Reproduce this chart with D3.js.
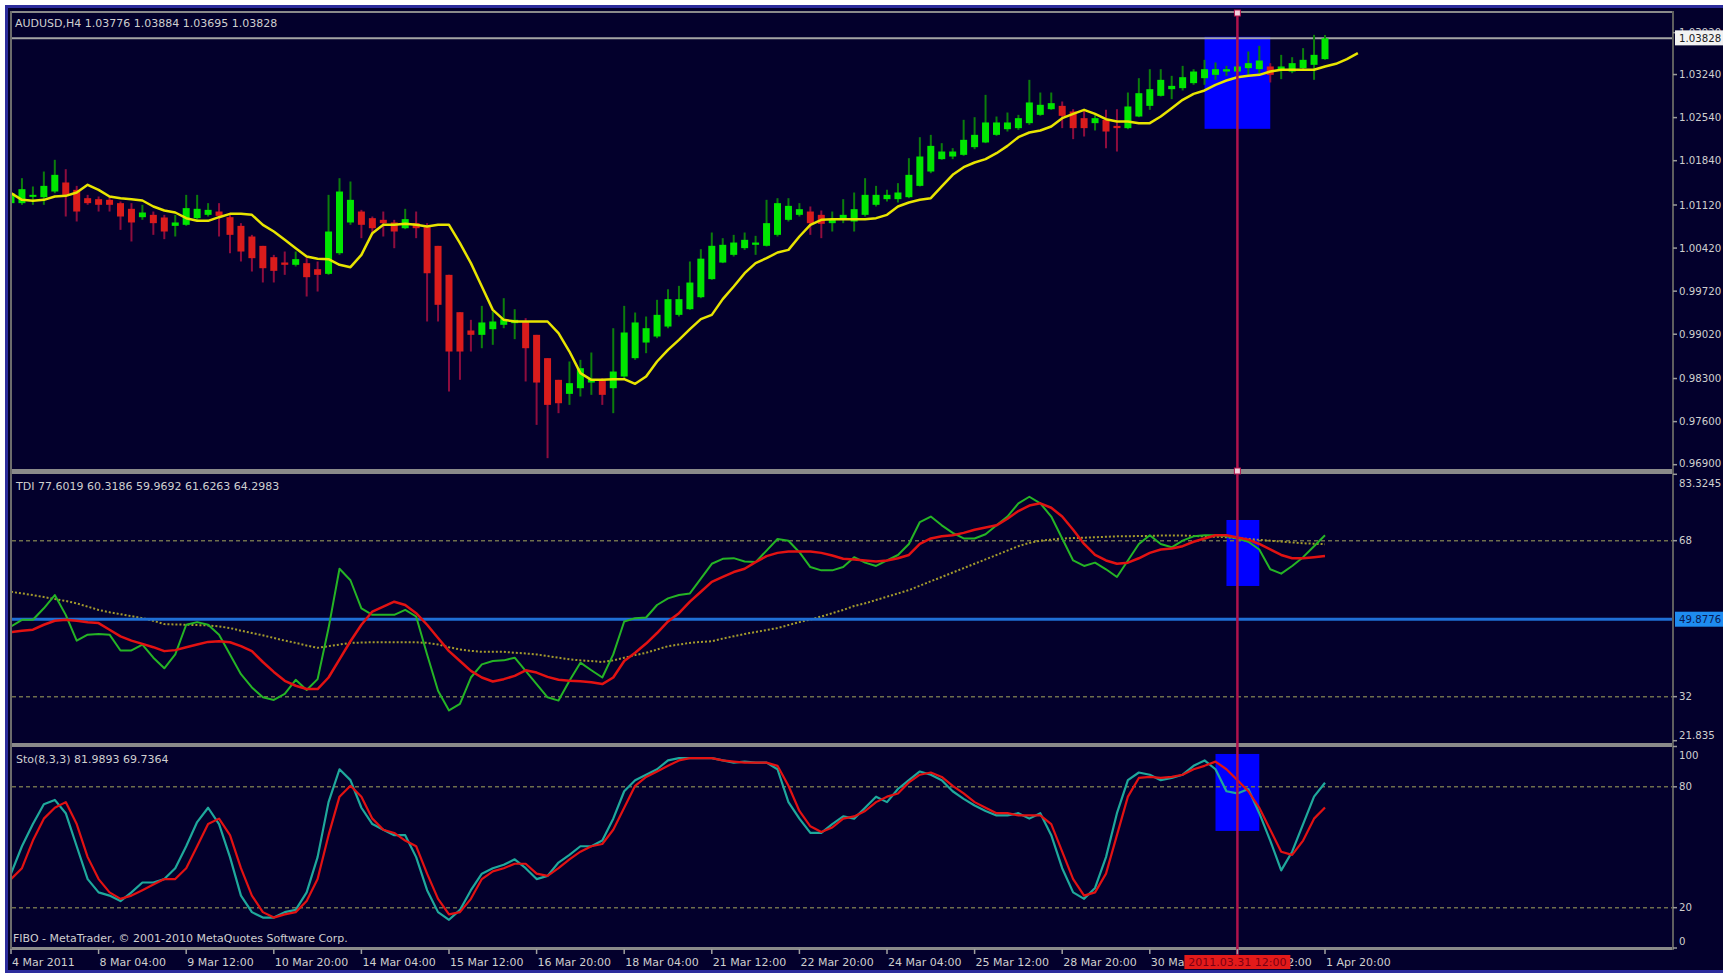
<!DOCTYPE html>
<html><head><meta charset="utf-8"><title>AUDUSD H4</title>
<script src="https://cdn.jsdelivr.net/npm/d3@7/dist/d3.min.js"></script>
<style>
html,body{margin:0;padding:0;background:#fff;overflow:hidden}
svg{display:block}
</style></head><body>
<svg id="chart" width="1723" height="973"></svg>
<script>
// ---------- DATA ----------
const timeLabels=["4 Mar 2011","8 Mar 04:00","9 Mar 12:00","10 Mar 20:00","14 Mar 04:00","15 Mar 12:00","16 Mar 20:00","18 Mar 04:00","21 Mar 12:00","22 Mar 20:00","24 Mar 04:00","25 Mar 12:00","28 Mar 20:00","30 Mar 04:00","31 Mar 12:00","1 Apr 20:00"];
const labelBars=[0,8,16,24,32,40,48,56,64,72,80,88,96,104,112,120];

const open=[1.01150,1.01150,1.01258,1.01247,1.01339,1.01486,1.01366,1.01231,1.01215,1.01204,
1.01150,1.01058,1.00922,1.00960,1.00917,1.00781,1.00798,1.00906,1.00960,1.01014,
1.00922,1.00781,1.00608,1.00456,1.00272,1.00186,1.00148,1.00175,1.00077,1.00001,
1.00337,1.00836,1.01014,1.00906,1.00879,1.00836,1.00743,1.00825,1.00760,1.00456,
0.99985,0.99378,0.99081,0.99010,0.99102,0.99173,0.99200,0.99227,0.99010,0.98631,
0.98279,0.98051,0.98143,0.98235,0.98290,0.98143,0.98333,0.98631,0.98885,0.98983,
0.99145,0.99335,0.99427,0.99622,0.99915,1.00185,1.00310,1.00419,1.00473,1.00457,
1.00635,1.00879,1.00960,1.01014,1.00960,1.00825,1.00890,1.00852,1.00960,1.01123,
1.01215,1.01215,1.01247,1.01431,1.01664,1.01865,1.01908,1.01935,1.02060,1.02136,
1.02260,1.02352,1.02369,1.02450,1.02585,1.02677,1.02731,1.02639,1.02531,1.02450,
1.02504,1.02406,1.02369,1.02558,1.02731,1.02894,1.03002,1.03019,1.03100,1.03181,
1.03235,1.03289,1.03289,1.03344,1.03327,1.03371,1.03317,1.03289,1.03344,1.03398,
1.03490];
const high=[1.01366,1.01556,1.01421,1.01664,1.01854,1.01702,1.01431,1.01285,1.01258,1.01258,
1.01177,1.01150,1.01123,1.01014,1.00960,1.00960,1.01285,1.01285,1.01150,1.01150,
1.00960,1.00825,1.00635,1.00456,1.00310,1.00364,1.00364,1.00256,1.00202,1.01285,
1.01556,1.01502,1.01041,1.00933,1.01014,1.00879,1.01058,1.01014,1.00825,1.00456,
0.99985,0.99378,0.99254,0.99481,0.99389,0.99606,0.99427,0.99281,0.99010,0.98631,
0.98279,0.98577,0.98604,0.98723,0.98306,0.99118,0.99481,0.99373,0.99308,0.99579,
0.99752,0.99806,1.00202,1.00402,1.00673,1.00581,1.00635,1.00673,1.00619,1.01204,
1.01231,1.01231,1.01150,1.01096,1.01031,1.01014,1.01215,1.01323,1.01556,1.01431,
1.01366,1.01475,1.01881,1.02222,1.02260,1.02125,1.02044,1.02504,1.02547,1.02910,
1.02558,1.02623,1.02585,1.03154,1.02948,1.02948,1.02802,1.02677,1.02666,1.02585,
1.02666,1.02677,1.02948,1.03181,1.03327,1.03327,1.03219,1.03381,1.03327,1.03479,
1.03436,1.03381,1.03425,1.03614,1.03706,1.03425,1.03560,1.03522,1.03669,1.03885,
1.03884];
const low=[1.01069,1.01123,1.01123,1.01123,1.01312,1.00933,1.00852,1.01123,1.01014,1.01014,
1.00716,1.00527,1.00879,1.00635,1.00565,1.00608,1.00781,1.00879,1.00933,1.00608,
1.00337,1.00202,1.00039,0.99861,0.99861,0.99985,1.00121,0.99633,0.99714,0.99985,
1.00310,1.00798,1.00581,1.00635,1.00608,1.00418,1.00727,1.00581,0.99227,0.99227,
0.98089,0.98279,0.98739,0.98793,0.98848,0.99118,0.98940,0.98252,0.97547,0.97006,
0.97737,0.97872,0.98008,0.98035,0.97872,0.97737,0.98306,0.98604,0.98712,0.98956,
0.99118,0.99308,0.99416,0.99606,0.99904,1.00175,1.00283,1.00391,1.00310,1.00446,
1.00608,1.00852,1.00933,1.00635,1.00581,1.00689,1.00825,1.00689,1.00933,1.01096,
1.01177,1.01161,1.01231,1.01421,1.01637,1.01854,1.01865,1.01919,1.02027,1.02125,
1.02244,1.02314,1.02341,1.02423,1.02569,1.02666,1.02369,1.02190,1.02233,1.02331,
1.02044,1.01989,1.02352,1.02547,1.02666,1.02883,1.02840,1.02981,1.03073,1.03073,
1.03154,1.03219,1.03235,1.03235,1.03262,1.03111,1.03165,1.03262,1.03327,1.03154,
1.03479];
const close=[1.01312,1.01377,1.01285,1.01431,1.01610,1.01285,1.01014,1.01150,1.01123,1.01123,
1.00933,1.00836,1.00998,1.00825,1.00689,1.00836,1.01069,1.01058,1.01041,1.00944,
1.00635,1.00364,1.00256,1.00093,1.00050,1.00148,1.00240,0.99947,0.99985,1.00689,
1.01339,1.01204,1.00798,1.00743,1.00825,1.00689,1.00890,1.00743,1.00011,0.99498,
0.98739,0.98739,0.99010,0.99211,0.99227,0.99265,0.99254,0.98793,0.98235,0.97872,
0.97899,0.98225,0.98468,0.98290,0.98035,0.98414,0.99048,0.99211,0.99118,0.99335,
0.99590,0.99590,0.99860,1.00248,1.00457,1.00473,1.00510,1.00554,1.00510,1.00825,
1.01150,1.01106,1.01052,1.00825,1.00814,1.00890,1.00960,1.01052,1.01285,1.01285,
1.01285,1.01323,1.01610,1.01908,1.02081,1.01989,1.01989,1.02179,1.02260,1.02461,
1.02461,1.02461,1.02531,1.02786,1.02748,1.02775,1.02569,1.02369,1.02369,1.02531,
1.02314,1.02369,1.02721,1.02937,1.03002,1.03154,1.03056,1.03197,1.03289,1.03327,
1.03327,1.03327,1.03371,1.03425,1.03468,1.03235,1.03371,1.03425,1.03479,1.03560,
1.03828];
// moving average (drawn shifted 3 bars forward, so it has 124 points)
const maValues=[1.01312,1.01204,1.01188,1.01204,1.01258,1.01269,1.01323,1.01448,1.01366,1.01258,
1.01231,1.01215,1.01193,1.01096,1.01031,1.00998,1.00906,1.00863,1.00863,1.00922,
1.00976,1.00976,1.00960,1.00798,1.00689,1.00554,1.00418,1.00283,1.00245,1.00240,
1.00148,1.00110,1.00310,1.00662,1.00798,1.00798,1.00814,1.00798,1.00771,1.00798,
1.00798,1.00500,1.00175,0.99796,0.99416,0.99254,0.99227,0.99227,0.99227,0.99227,
0.99037,0.98739,0.98387,0.98279,0.98279,0.98290,0.98290,0.98214,0.98333,0.98577,
0.98766,0.98929,0.99102,0.99265,0.99335,0.99590,0.99796,1.00012,1.00175,1.00256,
1.00348,1.00391,1.00608,1.00798,1.00879,1.00890,1.00890,1.00890,1.00890,1.00906,
1.00960,1.01096,1.01161,1.01204,1.01231,1.01421,1.01610,1.01735,1.01811,1.01865,
1.01962,1.02081,1.02222,1.02298,1.02331,1.02396,1.02531,1.02601,1.02666,1.02601,
1.02515,1.02477,1.02477,1.02450,1.02450,1.02558,1.02693,1.02829,1.02926,1.02981,
1.03073,1.03143,1.03197,1.03219,1.03235,1.03289,1.03317,1.03317,1.03317,1.03317,
1.03371,1.03414,1.03490,1.03588];
const priceTicks=[0.96900,0.97600,0.98300,0.99020,0.99720,1.00420,1.01120,1.01840,1.02540,1.03240,1.03920];

// TDI
const tdiPrice=[48.21,49.74,49.74,52.40,55.45,50.88,44.94,46.31,46.47,46.31,
42.66,42.66,44.03,40.99,38.55,41.75,48.60,49.20,48.60,46.31,
41.75,37.18,34.14,31.85,31.25,32.62,35.89,33.53,36.04,47.83,
61.53,58.87,52.40,50.88,50.88,50.88,52.02,50.50,41.75,33.38,
28.81,30.33,36.42,39.46,40.23,40.38,40.99,37.94,34.90,31.85,
31.09,35.66,39.84,38.09,36.42,41.75,49.36,50.12,50.27,53.16,
54.68,55.45,55.83,59.25,62.67,63.82,63.97,63.21,63.06,65.72,
68.38,68.00,65.34,61.91,61.15,61.15,61.91,64.20,62.93,62.17,
63.44,64.70,67.24,72.30,73.58,71.55,69.80,68.51,68.51,69.50,
71.55,73.58,76.62,78.14,76.62,73.58,68.51,63.44,62.17,62.93,
61.40,59.63,63.44,67.24,69.27,67.24,66.48,68.00,69.01,69.27,
69.27,69.01,68.51,67.75,65.97,61.40,60.39,62.17,64.20,66.73,
69.27];
const tdiSignal=[46.92,47.23,47.45,48.60,49.51,49.74,49.51,49.20,48.98,47.45,
45.93,44.94,44.18,43.42,42.51,42.74,43.42,44.03,44.64,44.79,
44.56,43.65,42.51,40.00,37.71,35.66,34.52,33.76,33.76,36.42,
40.61,44.79,48.60,51.64,52.78,53.92,53.16,51.26,48.60,45.55,
42.51,40.23,37.94,36.42,35.51,36.04,36.80,38.09,37.56,36.57,
35.89,35.66,35.58,35.35,34.90,36.42,40.23,42.13,44.26,46.69,
49.36,51.26,53.92,56.21,58.49,59.63,60.77,61.53,63.06,64.43,
65.19,65.49,65.49,65.49,65.19,64.58,63.82,63.66,63.44,63.20,
63.44,63.94,64.70,67.24,68.51,69.01,69.27,69.80,70.54,71.04,
71.55,73.07,74.85,76.11,76.62,75.60,73.58,70.54,67.24,64.70,
63.44,62.68,62.93,63.94,65.20,65.97,66.22,66.73,67.75,68.51,
69.27,69.27,68.76,68.25,67.24,65.97,64.70,63.94,63.94,64.20,
64.45];
const tdiBase=[56.21,55.83,55.45,54.99,54.53,54.08,53.54,52.78,52.02,51.49,
51.03,50.58,50.12,49.51,48.75,48.67,48.60,48.52,48.44,48.21,
47.83,47.23,46.69,46.16,45.55,44.94,44.41,43.80,43.27,43.65,
44.03,44.41,44.49,44.56,44.56,44.56,44.56,44.56,44.41,44.03,
43.42,42.89,42.58,42.35,42.35,42.35,42.13,41.97,41.75,41.37,
40.99,40.61,40.38,40.23,40.00,40.38,40.99,41.59,42.13,42.89,
43.65,44.03,44.41,44.64,44.79,45.40,45.93,46.47,46.92,47.38,
47.83,48.52,49.20,49.81,50.50,51.26,52.02,52.93,53.55,54.30,
55.07,55.83,56.59,57.60,58.62,59.63,60.65,61.66,62.68,63.69,
64.70,65.72,66.73,67.49,68.00,68.25,68.51,68.60,68.70,68.80,
68.90,69.00,69.00,69.10,69.10,69.20,69.20,69.20,69.10,69.00,
68.90,68.80,68.60,68.40,68.20,68.00,67.80,67.60,67.40,67.30,
67.20];
const tdiLevels=[68,32];
const tdiMarketLine=49.8776;
const tdiTicks=[{v:83.3245,t:"83.3245"},{v:68,t:"68"},{v:32,t:"32"},{v:21.835,t:"21.835"}];

// Stochastic
const stochMain=[36.9,50.5,61.5,71.3,73.5,66.9,50.5,34.2,27.6,26.0,
23.3,27.6,32.5,32.5,34.2,39.6,50.5,62.5,69.6,61.5,
45.1,26.0,17.8,15.1,15.1,17.8,18.9,27.6,45.1,72.4,
88.7,83.3,69.6,61.5,58.7,56.0,56.0,45.1,28.7,17.8,
14.0,18.9,28.7,36.9,39.6,41.3,44.0,39.6,34.2,35.8,
42.4,46.2,50.5,50.5,53.3,64.2,77.8,83.3,86.0,88.7,
93.1,94.2,94.2,94.2,94.2,93.1,92.0,92.5,92.0,92.0,
88.7,72.4,64.2,57.1,57.1,61.5,65.3,64.2,69.6,75.1,
72.4,78.9,83.3,87.6,86.0,83.3,77.8,74.0,70.7,68.0,
65.8,65.8,66.9,64.2,66.9,56.0,39.6,27.6,24.4,29.8,
45.1,66.9,83.3,87.1,86.0,83.3,84.4,86.0,90.4,93.1,
88.7,77.8,76.7,78.9,66.9,53.3,38.5,47.8,61.5,75.1,
81.99];
const stochSignal=[34.2,39.6,53.3,64.2,69.6,72.4,61.5,45.1,34.2,27.6,
24.4,26.0,28.7,31.5,34.2,34.2,39.6,50.5,61.5,64.2,
56.0,39.6,26.0,17.8,15.1,16.7,17.8,23.3,34.2,56.0,
75.1,80.5,75.1,64.2,58.7,57.1,53.3,50.5,36.9,24.4,
16.7,17.8,24.4,34.2,38.0,39.6,41.8,41.8,36.9,35.8,
39.6,44.0,47.8,50.5,51.6,58.7,69.6,80.5,84.9,87.6,
90.4,93.1,94.2,94.2,94.2,93.1,92.5,92.0,92.0,92.0,
90.4,80.5,68.0,60.4,57.6,59.8,64.2,65.3,68.0,72.4,
75.1,76.7,82.2,86.0,87.1,84.9,80.5,76.7,72.4,69.6,
66.9,66.9,65.8,65.8,65.8,61.5,47.8,34.2,26.0,27.6,
36.9,56.0,75.1,84.4,84.9,84.4,84.9,86.0,88.7,90.4,
92.5,88.7,83.3,77.8,69.6,58.7,47.8,46.2,53.3,64.2,
69.74];
const stochLevels=[80,20];
const stochTicks=[{v:100,t:"100"},{v:80,t:"80"},{v:20,t:"20"},{v:0,t:"0"}];

// highlight boxes: [fromBar, toBar, topValue, bottomValue]
const mainBox=[109,115,1.03853,1.02358];
const tdiBox=[111,114,72.78,57.55];
const stochBox=[110,114,96.3,58.1];
const crossBar=112;
const crossLabel="2011.03.31 12:00";

const mainTitle="AUDUSD,H4  1.03776 1.03884 1.03695 1.03828";
const tdiTitle="TDI  77.6019 60.3186 59.9692 61.6263 64.2983";
const stochTitle="Sto(8,3,3) 81.9893 69.7364";
const copyright="FIBO - MetaTrader, \u00A9 2001-2010 MetaQuotes Software Corp.";

// ---------- DRAW ----------
const svg=d3.select("#chart");
const FONT='"DejaVu Sans", Verdana, sans-serif';
const TXT="#cfcfcf";
const L=12,R=1672;
const panels={main:[13,469],tdi:[475,741],sto:[747,947]};

svg.append("rect").attr("x",0).attr("y",0).attr("width",1723).attr("height",973).attr("fill","#ffffff");
svg.append("rect").attr("x",5).attr("y",5).attr("width",1718).attr("height",968).attr("fill","#2c2c9c");
svg.append("rect").attr("x",8).attr("y",8).attr("width",1715).attr("height",962).attr("fill","#03002c");

const x=d3.scaleLinear().domain([0,120]).range([11,1325]);
const yP=d3.scaleLinear().domain([0.9683,1.0424]).range([469,13]);
const yT=d3.scaleLinear().domain([21.835,83.3245]).range([740.7,474.3]);
const yS=d3.scaleLinear().domain([0,100]).range([948,746.5]);

const defs=svg.append("defs");
Object.entries(panels).forEach(([k,[a,b]])=>{
  defs.append("clipPath").attr("id","clip-"+k).append("rect")
    .attr("x",L).attr("y",a).attr("width",R-L).attr("height",b-a);
});

function box(g,b,y){
  g.append("rect").attr("x",x(b[0])).attr("width",x(b[1])-x(b[0]))
   .attr("y",y(b[2])).attr("height",y(b[3])-y(b[2])).attr("fill","#0000ff");
}
function level(g,v,y){
  g.append("line").attr("x1",L).attr("x2",R).attr("y1",y(v)).attr("y2",y(v))
   .attr("stroke","#6f6f4c").attr("stroke-width",1.5).attr("stroke-dasharray","4,3");
}
function series(g,data,y,color,w,dash){
  const p=g.append("path").datum(data)
    .attr("d",d3.line().x((d,i)=>x(i)).y(d=>y(d)))
    .attr("fill","none").attr("stroke",color).attr("stroke-width",w)
    .attr("stroke-linejoin","round");
  if(dash) p.attr("stroke-dasharray",dash);
}

// ---- main panel
const gM=svg.append("g").attr("clip-path","url(#clip-main)");
box(gM,mainBox,yP);
gM.append("line").attr("x1",L).attr("x2",R).attr("y1",yP(close[close.length-1])).attr("y2",yP(close[close.length-1]))
  .attr("stroke","#a4a4a4").attr("stroke-width",2);
const bars=d3.range(close.length);
gM.selectAll("line.wick").data(bars).join("line").attr("class","wick")
  .attr("x1",i=>x(i)).attr("x2",i=>x(i)).attr("y1",i=>yP(high[i])).attr("y2",i=>yP(low[i]))
  .attr("stroke",i=>close[i]>=open[i]?"#0c7d0c":"#8e0c3e").attr("stroke-width",2);
gM.selectAll("rect.body").data(bars).join("rect").attr("class","body")
  .attr("x",i=>x(i)-3.5).attr("width",7)
  .attr("y",i=>yP(Math.max(open[i],close[i])))
  .attr("height",i=>Math.max(2,Math.abs(yP(open[i])-yP(close[i]))))
  .attr("fill",i=>close[i]>=open[i]?"#00e600":"#da1c1c");
series(gM,maValues,yP,"#e8e400",2.5);

// ---- TDI panel
const gT=svg.append("g").attr("clip-path","url(#clip-tdi)");
box(gT,tdiBox,yT);
tdiLevels.forEach(v=>level(gT,v,yT));
series(gT,tdiBase,yT,"#a49a2c",2,"2,2");
gT.append("line").attr("x1",L).attr("x2",R).attr("y1",yT(tdiMarketLine)).attr("y2",yT(tdiMarketLine))
  .attr("stroke","#1f6fd6").attr("stroke-width",3);
series(gT,tdiPrice,yT,"#25b425",2);
series(gT,tdiSignal,yT,"#e21212",2.5);

// ---- Stoch panel
const gS=svg.append("g").attr("clip-path","url(#clip-sto)");
box(gS,stochBox,yS);
stochLevels.forEach(v=>level(gS,v,yS));
series(gS,stochMain,yS,"#1fa89c",2.2);
series(gS,stochSignal,yS,"#e21212",2.2);

// ---- frames / separators
const gray="#8a8a8a";
svg.append("rect").attr("x",L-1).attr("y",11).attr("width",R-L+2).attr("height",2).attr("fill",gray);
svg.append("rect").attr("x",L-1).attr("y",469).attr("width",R-L+2).attr("height",5).attr("fill",gray);
svg.append("rect").attr("x",L-1).attr("y",743).attr("width",R-L+2).attr("height",4).attr("fill",gray);
svg.append("rect").attr("x",L-1).attr("y",947).attr("width",R-L+2).attr("height",3).attr("fill",gray);
svg.append("rect").attr("x",10).attr("y",11).attr("width",2).attr("height",939).attr("fill","#6c6c6c");
svg.append("rect").attr("x",R).attr("y",11).attr("width",2).attr("height",939).attr("fill","#5e5e5e");

// ---- crosshair
const cx=x(crossBar);
svg.append("line").attr("x1",cx).attr("x2",cx).attr("y1",12).attr("y2",956)
  .attr("stroke","#b0124c").attr("stroke-width",2.5);
[13,471].forEach(yy=>svg.append("rect").attr("x",cx-3).attr("y",yy-3).attr("width",6).attr("height",6)
  .attr("fill","#f2d2df").attr("stroke","#b0124c").attr("stroke-width",1));

// ---- right axes
function axisLabels(ticks,y,top,bottom){
  ticks.forEach(d=>{
    const yy=Math.min(Math.max(y(d.v),top+8),bottom-6);
    svg.append("line").attr("x1",R+1).attr("x2",R+5).attr("y1",y(d.v)).attr("y2",y(d.v)).attr("stroke","#9a9a9a").attr("stroke-width",1.5);
    svg.append("text").attr("x",1679).attr("y",yy).attr("dominant-baseline","central")
      .attr("font-family",FONT).attr("font-size","10.2px").attr("fill",TXT).text(d.t);
  });
}
axisLabels(priceTicks.map(v=>({v,t:d3.format(".5f")(v)})),yP,13,469);
axisLabels(tdiTicks,yT,475,741);
axisLabels(stochTicks,yS,747,947);
// current price box
const cp=close[close.length-1];
svg.append("rect").attr("x",1675).attr("y",yP(cp)-8).attr("width",48).attr("height",15).attr("fill","#f2f2f2");
svg.append("text").attr("x",1679).attr("y",yP(cp)).attr("dominant-baseline","central")
  .attr("font-family",FONT).attr("font-size","10.2px").attr("fill","#202020").text(d3.format(".5f")(cp));
// TDI blue line value
svg.append("rect").attr("x",1675).attr("y",yT(tdiMarketLine)-7.5).attr("width",48).attr("height",15).attr("fill","#1e8cf0");
svg.append("text").attr("x",1679).attr("y",yT(tdiMarketLine)).attr("dominant-baseline","central")
  .attr("font-family",FONT).attr("font-size","10.2px").attr("fill","#0a1850").text(tdiMarketLine.toFixed(4));

// ---- time axis
labelBars.forEach((b,i)=>{
  svg.append("line").attr("x1",x(b)).attr("x2",x(b)).attr("y1",949).attr("y2",954).attr("stroke","#a0a0a0").attr("stroke-width",1.5);
  svg.append("text").attr("x",x(b)+1).attr("y",962).attr("dominant-baseline","central")
    .attr("font-family",FONT).attr("font-size","11px").attr("fill",TXT).text(timeLabels[i]);
});
svg.append("rect").attr("x",cx-53).attr("y",955).attr("width",106).attr("height",14).attr("fill","#e31a1a");
svg.append("text").attr("x",cx).attr("y",962).attr("text-anchor","middle").attr("dominant-baseline","central")
  .attr("font-family",FONT).attr("font-size","11px").attr("fill","#7c0012").text(crossLabel);

// ---- titles
function title(t,xx,yy){
  svg.append("text").attr("x",xx).attr("y",yy).attr("dominant-baseline","central")
    .attr("font-family",FONT).attr("font-size","11px").attr("fill",TXT).text(t);
}
title(mainTitle,15,23);
title(tdiTitle,16,486);
title(stochTitle,16,759);
title(copyright,13,938);
</script></body></html>
